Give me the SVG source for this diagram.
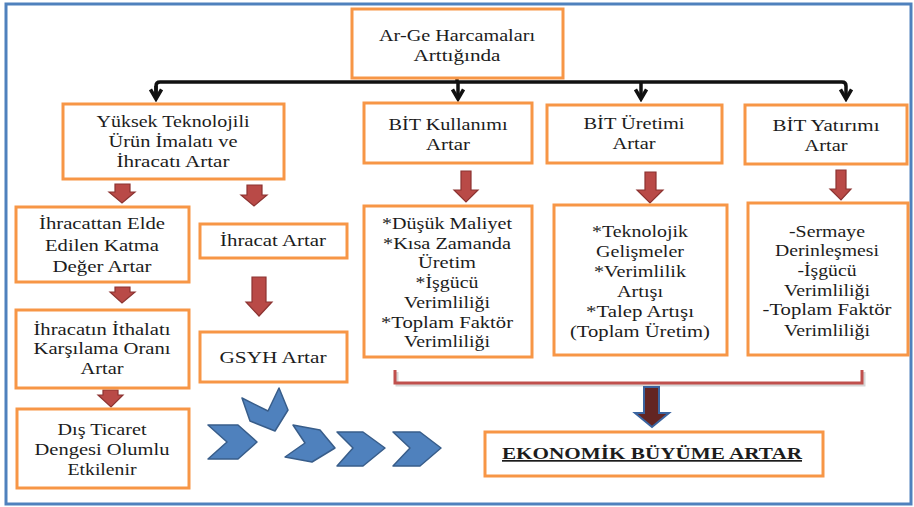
<svg xmlns="http://www.w3.org/2000/svg" width="914" height="507" viewBox="0 0 914 507">
<defs>
<style>
.frame{fill:#fff;stroke:#4f81bd;stroke-width:3}
.box{fill:#fff;stroke:#f79646;stroke-width:3}
.t{font-family:'Liberation Serif','DejaVu Serif',serif;font-size:17px;fill:#1c1c1c;text-anchor:middle}
.conn{fill:none;stroke:#111;stroke-width:3.5;stroke-linejoin:round}
.ra{fill:#b94a47;stroke:#8c3331;stroke-width:1.2}
.chev{fill:#4f81bd;stroke:#385d8a;stroke-width:1.5;stroke-linejoin:round}
</style>
<marker id="ah" viewBox="0 0 14 14" refX="11" refY="7" markerWidth="14" markerHeight="14" orient="auto" markerUnits="userSpaceOnUse">
<polyline points="1.5,1.5 11,7 1.5,12.5" fill="none" stroke="#111" stroke-width="3.5" stroke-linejoin="miter"/>
</marker>
</defs>
<rect class="frame" x="6" y="4" width="905" height="500"/>

<g id="connectors">
<path class="conn" d="M457,78 V82"/>
<path class="conn" d="M156,99 V86 Q156,82 160,82 H842 Q846,82 846,86 V99" marker-end="url(#ah)"/>
<path class="conn" d="M156,86 V99" marker-end="url(#ah)"/>
<path class="conn" d="M458,82 V99" marker-end="url(#ah)"/>
<path class="conn" d="M641,82 V99" marker-end="url(#ah)"/>
<polygon class="ra" points="115,184 130,184 130,192 135,192 122,203 109,192 115,192"/>
<polygon class="ra" points="247,185 262,185 262,195 267,195 254,206 241,195 247,195"/>
<polygon class="ra" points="115,287 130,287 130,292 135,292 122,303 110,292 115,292"/>
<polygon class="ra" points="103,390 118,390 118,395 123,395 111,407 98,395 103,395"/>
<polygon class="ra" points="252,277 266,277 266,302 272,302 259,316 246,302 252,302"/>
<polygon class="ra" points="461,171 471,171 471,190 478,190 466,202 454,190 461,190"/>
<polygon class="ra" points="645,172 656,172 656,190 663,190 650,203 637,190 645,190"/>
<polygon class="ra" points="836,170 846,170 846,189 851,189 841,200 830,189 836,189"/>
<path d="M397,372 V385 H864 V372" fill="none" stroke="#999" stroke-opacity="0.4" stroke-width="3"/>
<path d="M395,370 V383 H862 V370" fill="none" stroke="#c0504d" stroke-width="3"/>
<polygon points="644,387 659,387 659,413 669,413 652,427 635,413 644,413" fill="#632523" stroke="#3a64a0" stroke-width="2"/>
<polygon class="chev" points="208,425 238,425 257,442 238,459 208,459 227,442"/>
<polygon class="chev" points="242,398 268,411 279,388 288,410 275,431 250,421"/>
<polygon class="chev" points="293,425 320,430 335,448 312,462 285,457 305,443"/>
<polygon class="chev" points="337,432 363,432 385,448 363,466 337,466 353,448"/>
<polygon class="chev" points="393,432 420,432 441,448 420,466 393,466 410,448"/>
</g>

<g font-family="Liberation Serif, DejaVu Serif, serif">
<g id="n-top">
<rect class="box" x="352" y="9" width="211" height="69"/>
<text class="t" x="457" y="41" textLength="156" lengthAdjust="spacingAndGlyphs">Ar-Ge Harcamaları</text>
<text class="t" x="457" y="61" textLength="87" lengthAdjust="spacingAndGlyphs">Arttığında</text>
</g>

<g id="n-yuksek">
<rect class="box" x="63" y="104" width="221" height="75"/>
<text class="t" x="173" y="127" textLength="153" lengthAdjust="spacingAndGlyphs">Yüksek Teknolojili</text>
<text class="t" x="173" y="147" textLength="129" lengthAdjust="spacingAndGlyphs">Ürün İmalatı ve</text>
<text class="t" x="173" y="167" textLength="113" lengthAdjust="spacingAndGlyphs">İhracatı Artar</text>
</g>

<g id="n-katma">
<rect class="box" x="16" y="207" width="173" height="75"/>
<text class="t" x="102" y="229" textLength="126" lengthAdjust="spacingAndGlyphs">İhracattan Elde</text>
<text class="t" x="102" y="251" textLength="114" lengthAdjust="spacingAndGlyphs">Edilen Katma</text>
<text class="t" x="102" y="272" textLength="99" lengthAdjust="spacingAndGlyphs">Değer Artar</text>
</g>

<g id="n-ihracat">
<rect class="box" x="200" y="224" width="147" height="34"/>
<text class="t" x="273" y="246" textLength="106" lengthAdjust="spacingAndGlyphs">İhracat Artar</text>
</g>

<g id="n-karsilama">
<rect class="box" x="16" y="310" width="173" height="78"/>
<text class="t" x="102" y="335" textLength="137" lengthAdjust="spacingAndGlyphs">İhracatın İthalatı</text>
<text class="t" x="102" y="354" textLength="137" lengthAdjust="spacingAndGlyphs">Karşılama Oranı</text>
<text class="t" x="102" y="374" textLength="43" lengthAdjust="spacingAndGlyphs">Artar</text>
</g>

<g id="n-gsyh">
<rect class="box" x="200" y="332" width="147" height="50"/>
<text class="t" x="273" y="363" textLength="107" lengthAdjust="spacingAndGlyphs">GSYH Artar</text>
</g>

<g id="n-dis">
<rect class="box" x="17" y="409" width="172" height="79"/>
<text class="t" x="102" y="435" textLength="89" lengthAdjust="spacingAndGlyphs">Dış Ticaret</text>
<text class="t" x="102" y="455" textLength="135" lengthAdjust="spacingAndGlyphs">Dengesi Olumlu</text>
<text class="t" x="102" y="475" textLength="69" lengthAdjust="spacingAndGlyphs">Etkilenir</text>
</g>

<g id="n-kullanim">
<rect class="box" x="364" y="103" width="168" height="60"/>
<text class="t" x="448" y="130" textLength="119" lengthAdjust="spacingAndGlyphs">BİT Kullanımı</text>
<text class="t" x="448" y="150" textLength="44" lengthAdjust="spacingAndGlyphs">Artar</text>
</g>

<g id="n-uretim">
<rect class="box" x="547" y="105" width="175" height="58"/>
<text class="t" x="634" y="129" textLength="101" lengthAdjust="spacingAndGlyphs">BİT Üretimi</text>
<text class="t" x="634" y="149" textLength="43" lengthAdjust="spacingAndGlyphs">Artar</text>
</g>

<g id="n-yatirim">
<rect class="box" x="745" y="105" width="162" height="59"/>
<text class="t" x="826" y="131" textLength="107" lengthAdjust="spacingAndGlyphs">BİT Yatırımı</text>
<text class="t" x="826" y="151" textLength="43" lengthAdjust="spacingAndGlyphs">Artar</text>
</g>

<g id="n-kullanim-etki">
<rect class="box" x="364" y="206" width="168" height="151"/>
<text class="t" x="447" y="229" textLength="130" lengthAdjust="spacingAndGlyphs">*Düşük Maliyet</text>
<text class="t" x="447" y="249" textLength="128" lengthAdjust="spacingAndGlyphs">*Kısa Zamanda</text>
<text class="t" x="447" y="268" textLength="58" lengthAdjust="spacingAndGlyphs">Üretim</text>
<text class="t" x="447" y="288" textLength="63" lengthAdjust="spacingAndGlyphs">*İşgücü</text>
<text class="t" x="447" y="308" textLength="86" lengthAdjust="spacingAndGlyphs">Verimliliği</text>
<text class="t" x="447" y="328" textLength="132" lengthAdjust="spacingAndGlyphs">*Toplam Faktör</text>
<text class="t" x="447" y="347" textLength="86" lengthAdjust="spacingAndGlyphs">Verimliliği</text>
</g>

<g id="n-uretim-etki">
<rect class="box" x="554" y="205" width="173" height="150"/>
<text class="t" x="640" y="237" textLength="96" lengthAdjust="spacingAndGlyphs">*Teknolojik</text>
<text class="t" x="640" y="257" textLength="88" lengthAdjust="spacingAndGlyphs">Gelişmeler</text>
<text class="t" x="640" y="277" textLength="92" lengthAdjust="spacingAndGlyphs">*Verimlilik</text>
<text class="t" x="640" y="297" textLength="46" lengthAdjust="spacingAndGlyphs">Artışı</text>
<text class="t" x="640" y="317" textLength="108" lengthAdjust="spacingAndGlyphs">*Talep Artışı</text>
<text class="t" x="640" y="337" textLength="140" lengthAdjust="spacingAndGlyphs">(Toplam Üretim)</text>
</g>

<g id="n-yatirim-etki">
<rect class="box" x="748" y="203" width="160" height="152"/>
<text class="t" x="827" y="237" textLength="76" lengthAdjust="spacingAndGlyphs">-Sermaye</text>
<text class="t" x="827" y="256" textLength="104" lengthAdjust="spacingAndGlyphs">Derinleşmesi</text>
<text class="t" x="827" y="276" textLength="59" lengthAdjust="spacingAndGlyphs">-İşgücü</text>
<text class="t" x="827" y="296" textLength="86" lengthAdjust="spacingAndGlyphs">Verimliliği</text>
<text class="t" x="827" y="315" textLength="129" lengthAdjust="spacingAndGlyphs">-Toplam Faktör</text>
<text class="t" x="827" y="336" textLength="86" lengthAdjust="spacingAndGlyphs">Verimliliği</text>
</g>

<g id="n-buyume">
<rect class="box" x="485" y="432" width="338" height="44"/>
<text class="t" x="652" y="459" textLength="300" lengthAdjust="spacingAndGlyphs" style="font-weight:bold;font-size:17px;text-decoration:underline">EKONOMİK BÜYÜME ARTAR</text>
</g>
</g>
</svg>
